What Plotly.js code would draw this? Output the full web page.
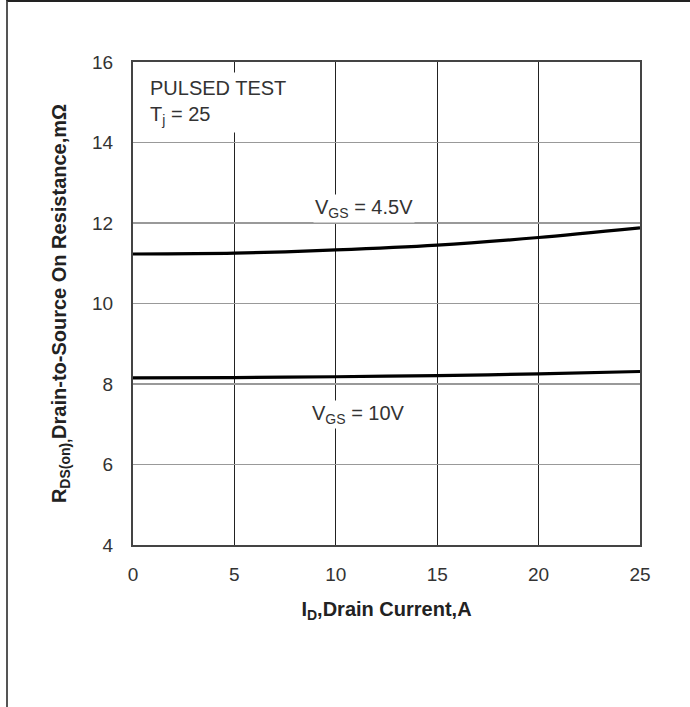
<!DOCTYPE html>
<html>
<head>
<meta charset="utf-8">
<script src="https://cdn.plot.ly/plotly-3.0.1.min.js"></script>
<style>
html,body{margin:0;padding:0;background:#fff;}
#frame{position:absolute;left:6px;top:0;width:684px;height:707px;border-top:2px solid #222;border-left:2px solid #555;box-sizing:border-box;pointer-events:none;z-index:5;}
#chart{position:absolute;left:0;top:0;width:690px;height:707px;}
</style>
</head>
<body>
<div id="chart"></div>
<div id="frame"></div>
<script>
const currentA = [0, 5, 10, 15, 20, 25];
const rdsVgs45 = [11.23, 11.25, 11.33, 11.45, 11.64, 11.88];
const rdsVgs10 = [8.15, 8.16, 8.18, 8.21, 8.25, 8.31];
const xTicks = [0, 5, 10, 15, 20, 25];
const yTicks = [4, 6, 8, 10, 12, 14, 16];

const lineStyle = {color: '#000', width: 3.2, shape: 'spline', smoothing: 0.8};
const traces = [
  {x: currentA, y: rdsVgs45, mode: 'lines', line: lineStyle, name: 'VGS = 4.5V', hoverinfo: 'skip'},
  {x: currentA, y: rdsVgs10, mode: 'lines', line: lineStyle, name: 'VGS = 10V', hoverinfo: 'skip'}
];

const fam = '"Liberation Sans", Arial, sans-serif';
const layout = {
  width: 690, height: 707,
  margin: {l: 133, r: 50, t: 62, b: 162},
  paper_bgcolor: '#fff', plot_bgcolor: '#fff',
  showlegend: false,
  font: {family: fam, color: '#333', size: 19},
  xaxis: {
    range: [0, 25], tickvals: xTicks, ticktext: xTicks.map(String),
    showgrid: true, gridcolor: '#222', gridwidth: 1,
    showline: true, linecolor: '#444', linewidth: 2, mirror: true,
    ticks: '', zeroline: false, ticklabelstandoff: 11,
    tickfont: {size: 19, family: fam, color: '#333'},
    title: {text: '<b>I<sub>D</sub>,Drain Current,A</b>', font: {size: 20, family: fam, color: '#222'}, standoff: 18}
  },
  yaxis: {
    range: [4, 16], tickvals: yTicks, ticktext: yTicks.map(String),
    showgrid: true, gridcolor: '#999', gridwidth: 1.6,
    showline: true, linecolor: '#444', linewidth: 2, mirror: true,
    ticks: '', zeroline: false, ticklabelstandoff: 14,
    tickfont: {size: 19, family: fam, color: '#333'},
    title: {text: '<b>R<sub>DS(on),</sub>Drain-to-Source On Resistance,mΩ</b>', font: {size: 20, family: fam, color: '#222'}, standoff: 20}
  },
  annotations: [
    {xref: 'x', yref: 'y', x: 0.6, y: 15.0, xanchor: 'left', yanchor: 'middle', align: 'left',
     text: 'PULSED TEST<br>T<sub>j</sub> = 25', showarrow: false, bgcolor: '#fff',
     font: {size: 20, family: fam, color: '#333'}, borderpad: 4},
    {xref: 'x', yref: 'y', x: 11.4, y: 12.37, xanchor: 'center', yanchor: 'middle',
     text: 'V<sub>GS</sub> = 4.5V', showarrow: false, bgcolor: '#fff',
     font: {size: 20, family: fam, color: '#333'}, borderpad: 1},
    {xref: 'x', yref: 'y', x: 11.1, y: 7.24, xanchor: 'center', yanchor: 'middle',
     text: 'V<sub>GS</sub> = 10V', showarrow: false, bgcolor: '#fff',
     font: {size: 20, family: fam, color: '#333'}, borderpad: 1}
  ]
};

Plotly.newPlot('chart', traces, layout, {displayModeBar: false, staticPlot: true});
</script>
</body>
</html>
